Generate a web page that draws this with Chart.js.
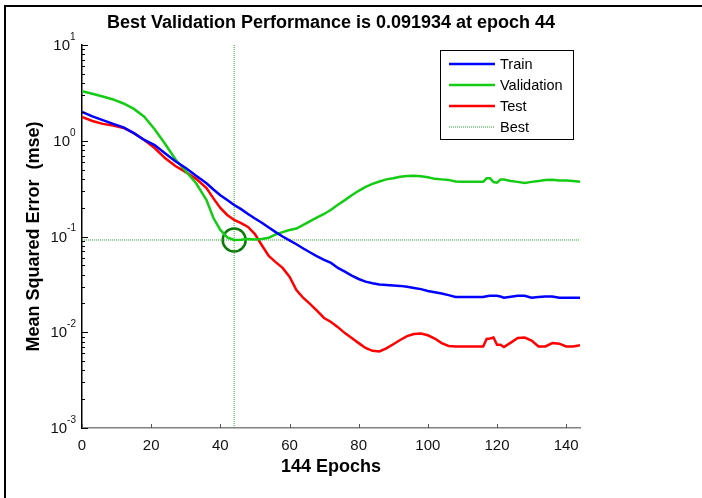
<!DOCTYPE html>
<html>
<head>
<meta charset="utf-8">
<script src="https://cdn.jsdelivr.net/npm/chart.js@4.4.1/dist/chart.umd.min.js"></script>
<style>
  html, body { margin: 0; padding: 0; background: #fff; }
  #wrap { width: 702px; height: 498px; }
</style>
</head>
<body>
<div id="wrap"><canvas id="perfChart" width="702" height="498"></canvas></div>
<script>
const epochs = [0,3,6,9,12,15,18,21,24,27,30,33,36,38,40,42,44,46,48,50,52,54,56,58,60,62,64,66,68,70,72,74,76,78,80,82,84,86,88,90,92,94,96,98,100,102,104,106,108,110,112,114,116,117,118,119,120,121,122,124,126,128,130,132,134,136,138,140,142,144];

const trainPerf = [2.0,1.8,1.64,1.5,1.38,1.2,1.02,0.9,0.74,0.61,0.52,0.43,0.36,0.31,0.27,0.24,0.213,0.193,0.172,0.154,0.139,0.124,0.111,0.1,0.091,0.083,0.075,0.068,0.062,0.057,0.053,0.047,0.043,0.039,0.036,0.0338,0.0325,0.0316,0.0312,0.0308,0.0305,0.0298,0.029,0.0282,0.027,0.0262,0.0254,0.0244,0.0234,0.0233,0.0233,0.0233,0.0233,0.0238,0.024,0.024,0.024,0.0236,0.0229,0.0235,0.024,0.024,0.0229,0.0233,0.0236,0.0236,0.0229,0.0229,0.0229,0.0229];

const valPerf = [3.3,3.1,2.9,2.7,2.45,2.15,1.78,1.32,0.93,0.64,0.48,0.36,0.24,0.156,0.117,0.098,0.0919,0.0925,0.094,0.093,0.094,0.097,0.105,0.111,0.117,0.121,0.132,0.145,0.158,0.172,0.19,0.215,0.24,0.27,0.3,0.33,0.355,0.375,0.395,0.405,0.42,0.428,0.43,0.425,0.415,0.4,0.395,0.39,0.375,0.372,0.372,0.372,0.372,0.405,0.405,0.37,0.365,0.393,0.393,0.38,0.372,0.362,0.372,0.38,0.39,0.392,0.385,0.385,0.38,0.372];

const testPerf = [1.77,1.61,1.5,1.44,1.36,1.2,1.02,0.84,0.66,0.545,0.47,0.4,0.32,0.25,0.199,0.168,0.149,0.138,0.126,0.106,0.081,0.0625,0.054,0.047,0.038,0.0276,0.0228,0.0197,0.0167,0.0141,0.0128,0.0113,0.0098,0.0087,0.0077,0.00685,0.0064,0.0063,0.0068,0.0075,0.0083,0.0091,0.0096,0.0097,0.0093,0.0086,0.0077,0.0072,0.0071,0.0071,0.0071,0.0071,0.0071,0.0085,0.0086,0.0088,0.0074,0.0074,0.007,0.0078,0.0087,0.0088,0.0082,0.0071,0.0071,0.0077,0.0076,0.0071,0.0071,0.0073];

const bestEpoch = 44;
const bestPerf = 0.091934;
const maxEpoch = 144;

const xTicks = [0,20,40,60,80,100,120,140];
const yTickValues = [10, 1, 0.1, 0.01, 0.001];
const yTickExps = ['1', '0', '-1', '-2', '-3'];

const FONT = "'Liberation Sans', Arial, sans-serif";

function pairs(vals) {
    return epochs.map((e, i) => ({ x: e, y: vals[i] }));
}

// frame, titles, ticks and legend drawn on top of the chart
const decorations = {
    id: 'decorations',
    beforeDraw(chart) {
        const ctx = chart.ctx;
        ctx.save();
        ctx.fillStyle = '#fff';
        ctx.fillRect(0, 0, chart.width, chart.height);
        ctx.restore();
    },
    afterDraw(chart) {
        const ctx = chart.ctx;
        const xs = chart.scales.x, ys = chart.scales.y;
        const area = chart.chartArea;
        ctx.save();

        // outer frame
        ctx.strokeStyle = '#000';
        ctx.lineWidth = 2;
        ctx.strokeRect(5, 6, 720, 520);

        // y ticks (inside, pointing right)
        ctx.strokeStyle = '#000';
        ctx.lineWidth = 1;
        for (let n = -3; n <= 1; n++) {
            for (let k = 1; k <= 9; k++) {
                const v = k * Math.pow(10, n);
                if (v > 10.0001) break;
                const py = Math.round(ys.getPixelForValue(v)) + 0.5;
                const len = k === 1 ? 6 : 3;
                ctx.beginPath();
                ctx.moveTo(area.left, py);
                ctx.lineTo(area.left + len, py);
                ctx.stroke();
            }
        }

        // x ticks (inside, pointing up)
        ctx.strokeStyle = '#555';
        xTicks.forEach(t => {
            const px = Math.round(xs.getPixelForValue(t)) + 0.5;
            ctx.beginPath();
            ctx.moveTo(px, area.bottom);
            ctx.lineTo(px, area.bottom - 4);
            ctx.stroke();
        });

        // y tick labels with exponents
        ctx.fillStyle = '#111';
        ctx.textBaseline = 'middle';
        yTickValues.forEach((v, i) => {
            const py = ys.getPixelForValue(v);
            ctx.font = '10px ' + FONT;
            const ew = ctx.measureText(yTickExps[i]).width;
            const expLeft = area.left - 6 - Math.max(ew, 6);
            ctx.textAlign = 'left';
            ctx.fillText(yTickExps[i], expLeft, py - 8);
            ctx.font = '15px ' + FONT;
            ctx.textAlign = 'right';
            ctx.fillText('10', expLeft, py + 1);
        });

        // title
        ctx.fillStyle = '#000';
        ctx.textAlign = 'center';
        ctx.font = 'bold 18px ' + FONT;
        ctx.fillText('Best Validation Performance is 0.091934 at epoch 44', (area.left + area.right) / 2, 23);

        // x title
        ctx.fillText('144 Epochs', (area.left + area.right) / 2, 467);

        // y title
        ctx.save();
        ctx.translate(34, (area.top + area.bottom) / 2);
        ctx.rotate(-Math.PI / 2);
        ctx.fillText('Mean Squared Error  (mse)', 0, 0);
        ctx.restore();

        // legend
        const lx = 440, ly = 50, lw = 133, lh = 89;
        ctx.fillStyle = '#fff';
        ctx.fillRect(lx, ly, lw, lh);
        ctx.strokeStyle = '#000';
        ctx.lineWidth = 1;
        ctx.strokeRect(lx + 0.5, ly + 0.5, lw, lh);
        const rows = [64, 85, 106, 127];
        const items = chart.data.datasets.filter(d => d.label !== 'circle');
        ctx.font = '14.5px ' + FONT;
        ctx.textAlign = 'left';
        items.forEach((d, i) => {
            const ry = rows[i];
            ctx.save();
            ctx.strokeStyle = d.borderColor;
            ctx.lineWidth = d.borderWidth;
            ctx.setLineDash(d.borderDash || []);
            ctx.beginPath();
            ctx.moveTo(449, ry);
            ctx.lineTo(495, ry);
            ctx.stroke();
            ctx.restore();
            ctx.fillStyle = '#000';
            ctx.fillText(d.label, 500, ry + 1);
        });

        ctx.restore();
    }
};

const ctx = document.getElementById('perfChart').getContext('2d');
new Chart(ctx, {
    type: 'line',
    data: {
        datasets: [
            {
                label: 'Train',
                data: pairs(trainPerf),
                borderColor: '#0000ff',
                borderWidth: 2.5,
                pointRadius: 0,
                fill: false
            },
            {
                label: 'Validation',
                data: pairs(valPerf),
                borderColor: '#14cc14',
                borderWidth: 2.5,
                pointRadius: 0,
                fill: false
            },
            {
                label: 'Test',
                data: pairs(testPerf),
                borderColor: '#ff0000',
                borderWidth: 2.5,
                pointRadius: 0,
                fill: false
            },
            {
                label: 'Best',
                data: [
                    { x: 0, y: bestPerf }, { x: maxEpoch, y: bestPerf },
                    { x: bestEpoch, y: null },
                    { x: bestEpoch, y: 10 }, { x: bestEpoch, y: 0.001 }
                ],
                borderColor: 'rgba(20,160,20,0.9)',
                borderWidth: 1,
                borderDash: [1, 1],
                pointRadius: 0,
                spanGaps: false,
                fill: false
            },
            {
                label: 'circle',
                data: [{ x: bestEpoch, y: bestPerf }],
                showLine: false,
                pointRadius: 11.5,
                pointBorderWidth: 2.5,
                pointBorderColor: '#0a7a0a',
                pointBackgroundColor: 'rgba(0,0,0,0)'
            }
        ]
    },
    options: {
        responsive: false,
        animation: false,
        layout: { padding: { left: 0, top: 45, right: 122, bottom: 0 } },
        plugins: {
            legend: { display: false },
            tooltip: { enabled: false },
            title: { display: false }
        },
        scales: {
            x: {
                type: 'linear',
                min: 0,
                max: maxEpoch,
                afterFit: scale => { scale.height = 70; },
                afterBuildTicks: scale => { scale.ticks = xTicks.map(v => ({ value: v })); },
                grid: { display: false, drawTicks: false },
                border: { display: true, color: '#808080', width: 1.5 },
                ticks: {
                    padding: 9,
                    color: '#111',
                    font: { family: FONT, size: 15 },
                    maxRotation: 0
                }
            },
            y: {
                type: 'logarithmic',
                min: 0.001,
                max: 10,
                afterFit: scale => { scale.width = 82; },
                grid: { display: false, drawTicks: false },
                border: { display: true, color: '#000', width: 1.5 },
                ticks: { display: false }
            }
        }
    },
    plugins: [decorations]
});
</script>
</body>
</html>
